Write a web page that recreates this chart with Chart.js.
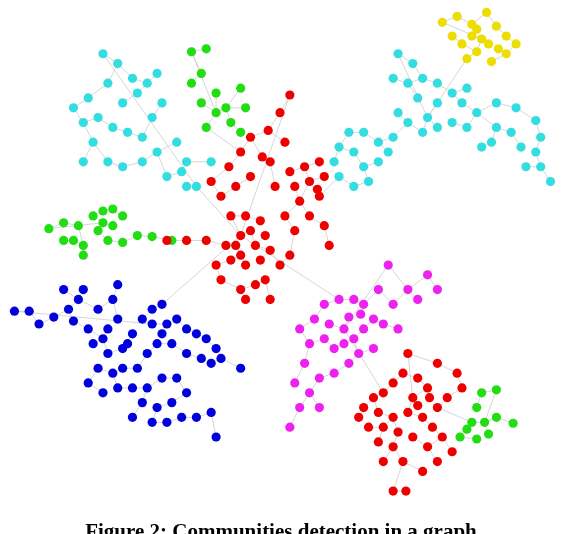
<!DOCTYPE html>
<html>
<head>
<meta charset="utf-8">
<script src="https://cdn.jsdelivr.net/npm/chart.js@4"></script>
<style>
  html, body { margin: 0; padding: 0; background: #fff; }
  #wrap { position: relative; width: 562px; height: 534px; overflow: hidden; }
  #caption { position: absolute; left: 0; width: 562px; top: 519px; text-align: center;
    font-family: "Liberation Serif", serif; font-size: 21px; font-weight: bold; color: #000; }
</style>
</head>
<body>
<div id="wrap">
  <canvas id="graph" width="562" height="534"></canvas>
  <div id="caption">Figure 2: Communities detection in a graph</div>
</div>
<script>
// Node positions per community (first entry = hub)
const redCentre = [[240,235],[290,92],[280,110],[268,128],[250,135],[262,155],[240,150],[228,165],[210,180],[220,195],[235,185],[250,175],[270,160],[285,140],[275,185],[230,215],[245,215],[260,220],[250,230],[235,245],[225,245],[240,255],[255,245],[265,235],[270,250],[260,260],[245,265],[230,260],[215,265],[205,240],[185,240],[165,240],[220,280],[240,290],[255,285],[265,280],[245,300],[270,300],[280,265],[290,255],[295,230],[285,215],[300,200],[310,180],[305,165],[320,160],[325,175],[320,195],[310,215],[325,225],[330,245],[295,185],[290,170],[318,188]];
const cyanLeft = [[195,185],[100,50],[115,60],[130,75],[105,80],[85,95],[70,105],[80,120],[95,115],[110,125],[125,130],[140,135],[150,115],[160,100],[145,80],[155,70],[135,90],[120,100],[90,140],[105,160],[120,165],[80,160],[140,160],[155,150],[165,175],[180,170],[185,185],[175,140],[185,160],[210,160]];
const greenTop = [[215,110],[190,48],[205,45],[200,70],[190,80],[215,90],[200,100],[225,105],[240,85],[245,105],[230,120],[205,125],[240,130]];
const greenLeft = [[100,222],[45,228],[60,222],[75,225],[90,215],[100,210],[110,208],[120,215],[95,230],[105,240],[120,242],[80,245],[70,240],[60,240],[80,255],[135,235],[150,236],[170,240],[110,225]];
const blue = [[150,325],[10,312],[25,312],[35,325],[50,318],[65,310],[75,300],[70,322],[85,330],[95,310],[110,300],[115,320],[100,340],[90,345],[105,355],[120,350],[130,335],[140,320],[150,310],[160,305],[165,325],[175,320],[185,330],[195,335],[205,340],[215,350],[220,360],[210,365],[200,360],[185,355],[170,345],[155,345],[145,355],[135,370],[120,370],[110,375],[95,370],[85,385],[100,395],[115,390],[130,390],[145,390],[160,380],[175,380],[185,395],[170,405],[155,410],[140,405],[130,420],[150,425],[165,425],[180,420],[195,420],[210,415],[215,440],[240,370],[80,290],[60,290],[115,285],[160,335],[125,345],[105,330]];
const magenta = [[345,330],[390,265],[410,290],[430,275],[440,290],[420,300],[395,305],[380,290],[365,305],[355,300],[340,300],[325,305],[315,320],[300,330],[310,345],[325,340],[335,350],[345,345],[355,340],[365,330],[375,320],[385,325],[400,330],[360,355],[350,365],[335,375],[320,380],[305,365],[295,385],[310,395],[300,410],[320,410],[290,430],[330,325],[350,318],[362,315],[375,350]];
const redBottom = [[415,400],[410,355],[440,365],[460,375],[465,390],[450,400],[440,410],[430,390],[420,380],[405,375],[395,385],[385,395],[375,400],[365,410],[380,415],[395,420],[410,415],[425,420],[435,430],[445,440],[430,450],[415,440],[400,435],[385,430],[370,430],[380,445],[395,450],[405,465],[385,465],[395,495],[408,495],[425,475],[440,465],[455,455],[360,420],[420,408],[432,400]];
const greenRight = [[488,425],[500,392],[485,395],[480,410],[500,420],[517,426],[475,425],[463,440],[480,442],[492,437],[470,432]];
const cyanRight = [[430,115],[400,50],[415,60],[425,75],[440,80],[410,80],[395,75],[420,95],[440,100],[455,90],[465,100],[470,85],[480,110],[470,125],[455,120],[440,125],[425,130],[410,120],[400,110],[395,135],[380,140],[365,130],[350,130],[340,145],[355,150],[365,165],[370,180],[355,185],[340,175],[335,160],[380,160],[390,150],[500,100],[520,105],[500,125],[515,130],[540,118],[545,135],[525,145],[540,150],[545,165],[530,165],[555,180],[495,140],[485,145]];
const yellow = [[485,35],[445,18],[460,12],[475,20],[490,8],[500,22],[510,32],[520,40],[510,50],[495,58],[480,48],[465,40],[455,32],[475,32],[492,40],[502,45],[470,55],[480,25]];

const communities = [
  { nodes: redCentre, color: '#ee0000' },
  { nodes: cyanLeft, color: '#33dde0' },
  { nodes: greenTop, color: '#22dd11' },
  { nodes: greenLeft, color: '#22dd11' },
  { nodes: blue, color: '#0000dd' },
  { nodes: magenta, color: '#ee22ee' },
  { nodes: redBottom, color: '#ee0000' },
  { nodes: greenRight, color: '#22dd11' },
  { nodes: cyanRight, color: '#33dde0' },
  { nodes: yellow, color: '#eedd00' }
];

// Links between communities (pairs of node positions taken from the arrays above)
const bridges = [
  [redCentre[0], blue[19]], [redCentre[0], magenta[10]], [magenta[0], redBottom[11]],
  [redBottom[6], greenRight[6]], [redCentre[47], cyanRight[28]], [cyanRight[0], yellow[16]],
  [redCentre[0], cyanLeft[0]], [redCentre[6], greenTop[11]], [redCentre[31], greenLeft[17]]
];

// Each node links to its nearest already-placed node in its community
function edgePoints() {
  const pts = [];
  communities.forEach(c => {
    c.nodes.forEach((p, i) => {
      if (i === 0) return;
      let best = c.nodes[0], bd = Infinity;
      for (let j = 0; j < i; j++) {
        const q = c.nodes[j];
        const d = (p[0] - q[0]) ** 2 + (p[1] - q[1]) ** 2;
        if (d < bd) { bd = d; best = q; }
      }
      pts.push({ x: best[0], y: best[1] }, { x: p[0], y: p[1] }, { x: NaN, y: NaN });
    });
  });
  bridges.forEach(([a, b]) => pts.push({ x: a[0], y: a[1] }, { x: b[0], y: b[1] }, { x: NaN, y: NaN }));
  return pts;
}

const datasets = [{
  type: 'line', data: edgePoints(), showLine: true, spanGaps: false,
  borderColor: '#cccccc', borderWidth: 0.8, pointRadius: 0, order: 2
}];
communities.forEach(c => datasets.push({
  data: c.nodes.map(p => ({ x: p[0], y: p[1] })),
  backgroundColor: c.color, borderColor: c.color, pointRadius: 4.6, borderWidth: 0, order: 1
}));

new Chart(document.getElementById('graph'), {
  type: 'scatter',
  data: { datasets },
  options: {
    responsive: false, animation: false,
    layout: { padding: 0 },
    plugins: { legend: { display: false }, tooltip: { enabled: false } },
    scales: {
      x: { display: false, min: 0, max: 562 },
      y: { display: false, min: 0, max: 534, reverse: true }
    }
  }
});
</script>
</body>
</html>
